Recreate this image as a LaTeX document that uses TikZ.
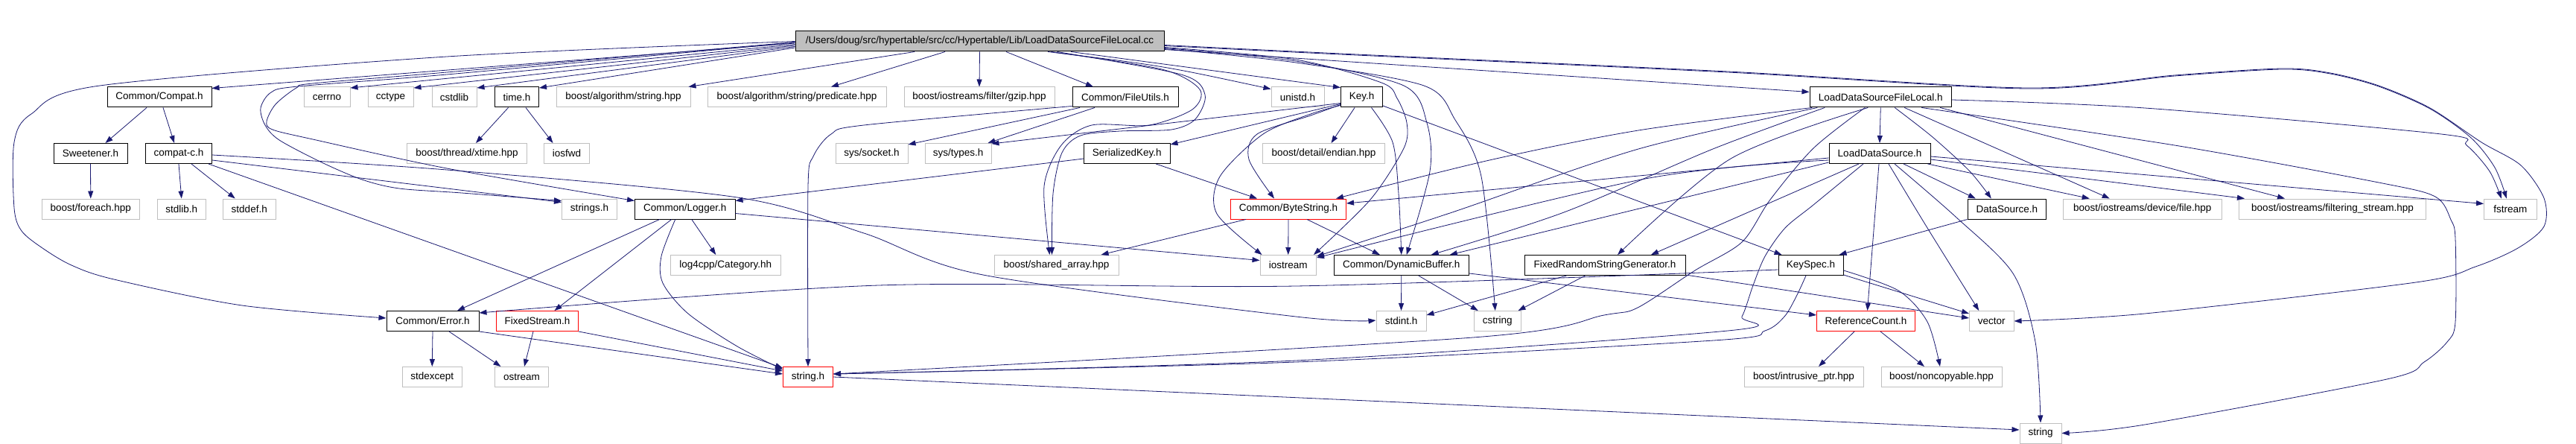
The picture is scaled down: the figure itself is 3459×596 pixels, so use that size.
\documentclass[tikz,border=0pt]{standalone}
\usepackage{fontspec}
\setmainfont{Liberation Sans}
\usetikzlibrary{arrows.meta}
\definecolor{edgec}{RGB}{25,25,112}
\definecolor{gborder}{RGB}{191,191,191}
\definecolor{rootfill}{RGB}{191,191,191}
\newcommand\dfont{\fontsize{13.5}{16}\selectfont}
\begin{document}
\begin{tikzpicture}[x=1pt,y=-1pt,
 nb/.style={draw=black,line width=1pt,minimum height=27pt,inner sep=0pt,font=\dfont,text=black},
 ng/.style={nb,draw=gborder},
 nr/.style={nb,draw=red},
 e/.style={draw=edgec,line width=0.8pt,-{Triangle[length=10pt,width=7pt]}}]
\fill[white] (0,0) rectangle (3459,596);
\useasboundingbox (0,0) rectangle (3459,596);
% row 0
\node[nb,fill=rootfill,minimum width=495pt] (root) at (1315.5,55.5) {/Users/doug/src/hypertable/src/cc/Hypertable/Lib/LoadDataSourceFileLocal.cc};
% row 1
\node[nb,minimum width=140pt] (compat) at (214,130.5) {Common/Compat.h};
\node[ng,minimum width=62pt] (cerrno) at (439,130.5) {cerrno};
\node[ng,minimum width=61pt] (cctype) at (524.5,130.5) {cctype};
\node[ng,minimum width=60pt] (cstdlib) at (610,130.5) {cstdlib};
\node[nb,minimum width=59pt] (timeh) at (694,130.5) {time.h};
\node[ng,minimum width=180pt] (algostr) at (837,130.5) {boost/algorithm/string.hpp};
\node[ng,minimum width=240pt] (pred) at (1070,130.5) {boost/algorithm/string/predicate.hpp};
\node[ng,minimum width=202pt] (gzip) at (1315,130.5) {boost/iostreams/filter/gzip.hpp};
\node[nb,minimum width=142pt] (fileutils) at (1511,130.5) {Common/FileUtils.h};
\node[ng,minimum width=71pt] (unistd) at (1742.5,130.5) {unistd.h};
\node[nb,minimum width=56pt] (keyh) at (1828.5,130.5) {Key.h};
\node[nb,minimum width=190.5pt] (ldsfl) at (2525.25,130.5) {LoadDataSourceFileLocal.h};
% row 2
\node[nb,minimum width=99pt] (sweet) at (121.5,206) {Sweetener.h};
\node[nb,minimum width=89pt] (compatc) at (240,206) {compat-c.h};
\node[ng,minimum width=161pt] (xtime) at (627,206) {boost/thread/xtime.hpp};
\node[ng,minimum width=61pt] (iosfwd) at (761,206) {iosfwd};
\node[ng,minimum width=97pt] (syssock) at (1170.5,206) {sys/socket.h};
\node[ng,minimum width=89pt] (systypes) at (1286.5,206) {sys/types.h};
\node[nb,minimum width=115.5pt] (serkey) at (1513.25,206) {SerializedKey.h};
\node[ng,minimum width=164pt] (endian) at (1777.5,206) {boost/detail/endian.hpp};
\node[nb,minimum width=136pt] (lds) at (2524,206) {LoadDataSource.h};
% row 3
\node[ng,minimum width=131.5pt] (foreach) at (121.75,280.5) {boost/foreach.hpp};
\node[ng,minimum width=65.5pt] (stdlib) at (243.75,280.5) {stdlib.h};
\node[ng,minimum width=71.5pt] (stddef) at (334.75,280.5) {stddef.h};
\node[ng,minimum width=74pt] (strings) at (791.5,280.5) {strings.h};
\node[nb,minimum width=134.5pt] (logger) at (919.75,280.5) {Common/Logger.h};
\node[nr,minimum width=155pt] (bytestr) at (1730,280.5) {Common/ByteString.h};
\node[nb,minimum width=105.5pt] (datasrc) at (2694.75,280.5) {DataSource.h};
\node[ng,minimum width=212.5pt] (devfile) at (2876.75,280.5) {boost/iostreams/device/file.hpp};
\node[ng,minimum width=251pt] (filtstr) at (3132,280.5) {boost/iostreams/filtering\_stream.hpp};
\node[ng,minimum width=70.5pt] (fstream) at (3370.75,280.5) {fstream};
% row 4
\node[ng,minimum width=148.5pt] (log4) at (974.25,356) {log4cpp/Category.hh};
\node[ng,minimum width=167pt] (sharr) at (1418.5,356) {boost/shared\_array.hpp};
\node[ng,minimum width=75.5pt] (iostream) at (1729.75,356) {iostream};
\node[nb,minimum width=181.5pt] (dynbuf) at (1881.75,356) {Common/DynamicBuffer.h};
\node[nb,minimum width=216pt] (frsg) at (2155,356) {FixedRandomStringGenerator.h};
\node[nb,minimum width=87pt] (keyspec) at (2431.5,356) {KeySpec.h};
% row 5
\node[nb,minimum width=124pt] (error) at (581,431) {Common/Error.h};
\node[nr,minimum width=110pt] (fixedstr) at (721.5,431) {FixedStream.h};
\node[ng,minimum width=67pt] (stdint) at (1881.5,431) {stdint.h};
\node[ng,minimum width=62.5pt] (cstring) at (2010.75,431) {cstring};
\node[nr,minimum width=132pt] (refcount) at (2505.5,431) {ReferenceCount.h};
\node[ng,minimum width=59.5pt] (vector) at (2674.25,431) {vector};
% row 6
\node[ng,minimum width=79.5pt] (stdexcept) at (580.25,506) {stdexcept};
\node[ng,minimum width=72pt] (ostream) at (700.5,506) {ostream};
\node[nr,minimum width=67pt] (stringh) at (1085,506) {string.h};
\node[ng,minimum width=160pt] (intrus) at (2422,506) {boost/intrusive\_ptr.hpp};
\node[ng,minimum width=162pt] (noncopy) at (2607,506) {boost/noncopyable.hpp};
% row 7
\node[ng,minimum width=56pt] (string) at (2740,581.5) {string};

% ---- edges from root
\draw[e] ([yshift=-2.5pt]root.west) -- ([yshift=-2pt]compat.north east);
\draw[e] ([yshift=-4pt]root.west) -- ([yshift=-1.5pt]cerrno.north east);
\draw[e] ([yshift=-5.5pt]root.west) -- ([yshift=-1.5pt]cctype.north east);
\draw[e] ([yshift=-7pt]root.west) -- ([yshift=-1.5pt]cstdlib.north east);
\draw[e] ([yshift=-8.5pt]root.west) -- ([yshift=-1.5pt]timeh.north east);
\draw[e] ([xshift=-87.5pt]root.south) -- ([xshift=-3pt]algostr.north east);
\draw[e] ([xshift=-46.5pt]root.south) -- ([xshift=46pt]pred.north);
\draw[e] (root.south) -- (gzip.north);
\draw[e] ([xshift=35.5pt]root.south) -- ([xshift=-43pt]fileutils.north);
\draw[e] ([xshift=91.5pt]root.south) .. controls (1560,88) .. ([yshift=-3pt]unistd.north west);
\draw[e] ([xshift=122.5pt]root.south) -- ([yshift=-1pt]keyh.north west);
\draw[e] ([yshift=-11pt]root.east) -- ([yshift=-7pt]ldsfl.north west);
\draw[e] plot[smooth,tension=0.5] coordinates {(root.west) (600,76) (134,115) (42,153) (19,191) (19,279) (29,310) (57,333) (96,356) (153,375) (325,410) ([yshift=4pt]error.west)};
\draw[e] plot[smooth,tension=0.5] coordinates {([yshift=-1.5pt]root.west) (600,100) (400,116) (364,124) (350,145) (356,168) (375,188) (432,218) (486,241) (536,253) (620,259) ([yshift=-3pt]strings.north west)};
\draw[e] plot[smooth,tension=0.5] coordinates {([yshift=-1pt]root.west) (600,97) (420,112) (398,118) (370,140) (358,163) (366,174) (420,187) (600,226) ([yshift=-3pt]logger.north west)};
\draw[e] plot[smooth,tension=0.5] coordinates {([xshift=96pt]root.south) (1560,93) (1611,120) (1601,147) (1543,168) (1466,168) (1425,195) (1402,250) ([xshift=-9pt]sharr.north)};
\draw[e] plot[smooth,tension=0.5] coordinates {([xshift=104pt]root.south) (1586,100) (1618,127) (1605,160) (1573,174) (1504,176) (1451,182) (1426,205) (1414,260) ([xshift=-6pt]sharr.north)};
\draw[e] plot[smooth,tension=0.5] coordinates {([yshift=-5pt]root.east) (1800,72) (2320,96) (2722,118) (2920,101) (3064,92) (3129,98) (3194,115) (3263,145) (3332,191) (3385,222) (3416,266) (3416,304) (3381,333) (3324,358) (3244,379) (2880,421) (vector.east)};
\draw[e] plot[smooth,tension=0.5] coordinates {([yshift=-6pt]root.east) (1800,73) (2320,97) (2722,119) (2920,102) (3064,93) (3129,99) (3194,116) (3263,146) (3318,185) (3350,225) ([xshift=-5pt]fstream.north)};
\draw[e] plot[smooth,tension=0.5] coordinates {([yshift=-9pt]root.east) (1740,82) (1885,115) (1916,165) (1920,230) ([xshift=7pt]dynbuf.north)};
\draw[e] plot[smooth,tension=0.5] coordinates {([yshift=-10pt]root.east) (1740,84) (1912,115) (1954,161) (1989,237) ([xshift=-3pt]cstring.north)};
\draw[e] plot[smooth,tension=0.5] coordinates {([yshift=-8pt]root.east) (1740,80) (1855,111) (1876,132) (1889,165) (1885,199) (1840,268) ([xshift=-4pt]iostream.north east)};

% ---- Compat family
\draw[e] ([xshift=-17pt]compat.south) -- ([xshift=20pt]sweet.north);
\draw[e] ([xshift=5pt]compat.south) -- ([xshift=-6pt]compatc.north);
\draw[e] (sweet.south) -- (foreach.north);
\draw[e] (compatc.south) -- (stdlib.north);
\draw[e] ([xshift=17pt]compatc.south) -- ([xshift=-19pt]stddef.north);
\draw[e] ([yshift=-9pt]compatc.east) -- ([yshift=-5pt]strings.north west);
\draw[e] plot[smooth,tension=0.5] coordinates {([yshift=-2pt]compatc.east) (600,228) (990,265) (1160,313) (1320,369) (1740,425) ([yshift=1pt]stdint.west)};
\draw[e] ([xshift=-5pt]compatc.south east) -- ([yshift=-2pt]stringh.north west);

% ---- time.h
\draw[e] ([xshift=-11.5pt]timeh.south) -- ([xshift=12pt]xtime.north);
\draw[e] ([xshift=12pt]timeh.south) -- ([xshift=-18.5pt]iosfwd.north);

% ---- Logger
\draw[e] ([xshift=-34pt]logger.south) -- ([xshift=33pt]error.north);
\draw[e] ([xshift=-18pt]logger.south) -- ([xshift=23pt]fixedstr.north);
\draw[e] plot[smooth,tension=0.5] coordinates {([xshift=-13pt]logger.south) (888,344) (890,380) (924,421) (990,465) ([yshift=-4pt]stringh.north west)};
\draw[e] ([xshift=9pt]logger.south) -- ([xshift=-13pt]log4.north);
\draw[e] ([yshift=-6pt]logger.east) -- ([yshift=-7.5pt]iostream.north west);

% ---- Error, FixedStream, string.h
\draw[e] (error.south) -- (stdexcept.north);
\draw[e] ([xshift=22pt]error.south) -- ([xshift=-28pt]ostream.north);
\draw[e] (error.south east) -- ([yshift=-10pt]stringh.north west);
\draw[e] ([xshift=-5.5pt]fixedstr.south) -- ([xshift=3.5pt]ostream.north);
\draw[e] (fixedstr.south east) -- ([yshift=-6pt]stringh.north west);
\draw[e] (stringh.east) -- ([yshift=4.5pt]string.west);

% ---- FileUtils
\draw[e] ([xshift=-61pt]fileutils.south) -- ([yshift=-2pt]syssock.north east);
\draw[e] ([xshift=-41pt]fileutils.south) -- ([xshift=-5pt]systypes.north east);
\draw[e] plot[smooth,tension=0.5] coordinates {([yshift=-12pt]fileutils.west) (1160,168) (1116,180) (1092,210) (1085,250) (stringh.north)};

% ---- Key.h
\draw[e] ([yshift=-9pt]keyh.west) -- ([yshift=-2pt]serkey.north east);
\draw[e] ([yshift=-8pt]keyh.west) -- ([yshift=-1pt]systypes.north east);
\draw[e] plot[smooth,tension=0.5] coordinates {([yshift=-10pt]keyh.west) (1760,155) (1688,180) (1677,214) ([xshift=-19pt]bytestr.north)};
\draw[e] plot[smooth,tension=0.5] coordinates {([yshift=-11pt]keyh.west) (1760,153) (1696,180) (1638,237) (1634,287) ([xshift=3pt]iostream.north west)};
\draw[e] ([xshift=-9.5pt]keyh.south) -- ([xshift=10pt]endian.north);
\draw[e] plot[smooth,tension=0.5] coordinates {([xshift=13pt]keyh.south) (1870,191) (1878,260) (dynbuf.north)};
\draw[e] ([yshift=-11.5pt]keyh.east) -- ([xshift=5pt]keyspec.north west);

% ---- SerializedKey, ByteString
\draw[e] ([xshift=39pt]serkey.south) -- ([xshift=-42pt]bytestr.north);
\draw[e] ([yshift=-7pt]serkey.west) -- ([yshift=-3pt]logger.north east);
\draw[e] ([xshift=-57pt]bytestr.south) -- ([xshift=60pt]sharr.north);
\draw[e] (bytestr.south) -- (iostream.north);
\draw[e] ([xshift=25pt]bytestr.south) -- ([xshift=-29pt]dynbuf.north);

% ---- DynamicBuffer, FRSG
\draw[e] (dynbuf.south) -- (stdint.north);
\draw[e] ([xshift=23pt]dynbuf.south) -- ([xshift=-26pt]cstring.north);
\draw[e] ([yshift=-11pt]dynbuf.east) -- ([yshift=8pt]refcount.west);
\draw[e] ([xshift=-51.5pt]frsg.south) -- ([yshift=8pt]stdint.east);
\draw[e] ([xshift=-26.5pt]frsg.south) -- ([xshift=-4pt]cstring.north east);
\draw[e] ([yshift=-13pt]frsg.east) -- ([yshift=4pt]vector.west);

% ---- KeySpec
\draw[e] plot[smooth,tension=0.5] coordinates {([yshift=-6pt]keyspec.west) (1740,384) (1180,383) ([yshift=11pt]error.east)};
\draw[e] plot[smooth,tension=0.5] coordinates {([xshift=-6.5pt]keyspec.south) (2412,398) (2396,425) (2370,444) (2301,457) (1740,486) ([yshift=4pt]stringh.east)};
\draw[e] ([yshift=-13pt]keyspec.east) -- ([yshift=10pt]vector.west);
\draw[e] plot[smooth,tension=0.5] coordinates {([yshift=-7pt]keyspec.east) (2549,390) (2588,432) ([xshift=-2pt]noncopy.north)};

% ---- LoadDataSourceFileLocal.h
\draw[e] plot[smooth,tension=0.5] coordinates {([xshift=-21pt]ldsfl.south) (2435,199) (2377,268) (2339,325) (2276,363) (2199,413) (2154,423) (1978,453) ([yshift=4pt]stringh.east)};
\draw[e] plot[smooth,tension=0.5] coordinates {([xshift=-92pt]ldsfl.south) (2200,175) (2000,215) ([xshift=-14pt]bytestr.north east)};
\draw[e] plot[smooth,tension=0.5] coordinates {([xshift=-85pt]ldsfl.south) (2200,200) (1950,285) ([yshift=-2pt]iostream.north east)};
\draw[e] plot[smooth,tension=0.5] coordinates {([xshift=-75pt]ldsfl.south) (2300,200) (2100,285) ([xshift=40pt]dynbuf.north)};
\draw[e] plot[smooth,tension=0.5] coordinates {([xshift=-17pt]ldsfl.south) (2324,213) ([xshift=17pt]frsg.north)};
\draw[e] (ldsfl.south) -- (lds.north);
\draw[e] plot[smooth,tension=0.5] coordinates {([xshift=19pt]ldsfl.south) (2595,184) (2645,230) ([xshift=-21pt]datasrc.north)};
\draw[e] ([xshift=32pt]ldsfl.south) -- ([xshift=-44pt]devfile.north);
\draw[e] ([xshift=80pt]ldsfl.south) -- ([xshift=-64pt]filtstr.north);
\draw[e] plot[smooth,tension=0.5] coordinates {([xshift=55pt]ldsfl.south) (2920,195) (3194,245) (3270,264) (3291,295) (3297,321) (3297,432) (3286,459) (3255,486) (3205,509) (2880,570) (string.east)};
\draw[e] plot[smooth,tension=0.5] coordinates {([yshift=-3.5pt]ldsfl.east) (2880,145) (3278,180) (3312,195) (3343,230) ([xshift=-12pt]fstream.north)};

% ---- LoadDataSource.h
\draw[e] ([yshift=-6pt]lds.west) -- ([yshift=7.5pt]bytestr.east);
\draw[e] plot[smooth,tension=0.5] coordinates {([yshift=-9pt]lds.west) (2209,240) ([yshift=-4pt]iostream.north east)};
\draw[e] ([yshift=-12pt]lds.west) -- ([xshift=65pt]dynbuf.north);
\draw[e] ([xshift=-28pt]lds.south) -- ([xshift=62pt]frsg.north);
\draw[e] plot[smooth,tension=0.5] coordinates {([xshift=-22pt]lds.south) (2435,275) (2397,306) (2370,344) (2354,383) (2339,425) (2320,444) (1740,484) ([yshift=4pt]stringh.east)};
\draw[e] ([xshift=-1pt]lds.south) -- ([xshift=2pt]refcount.north);
\draw[e] plot[smooth,tension=0.5] coordinates {([xshift=12pt]lds.south) (2588,306) ([xshift=-17pt]vector.north)};
\draw[e] plot[smooth,tension=0.5] coordinates {([xshift=20pt]lds.south) (2626,291) (2703,367) (2733,459) (string.north)};
\draw[e] ([xshift=32pt]lds.south) -- ([xshift=-42pt]datasrc.north);
\draw[e] ([xshift=-4pt]lds.south east) -- ([xshift=-71pt]devfile.north);
\draw[e] ([yshift=-8pt]lds.east) -- ([xshift=-118pt]filtstr.north);
\draw[e] ([yshift=-4pt]lds.east) -- ([yshift=7pt]fstream.west);

% ---- DataSource, ReferenceCount
\draw[e] (datasrc.south west) -- ([xshift=-6pt]keyspec.north east);
\draw[e] ([xshift=-15.5pt]refcount.south) -- ([xshift=20pt]intrus.north);
\draw[e] ([xshift=19.5pt]refcount.south) -- ([xshift=-23pt]noncopy.north);
\end{tikzpicture}
\end{document}
